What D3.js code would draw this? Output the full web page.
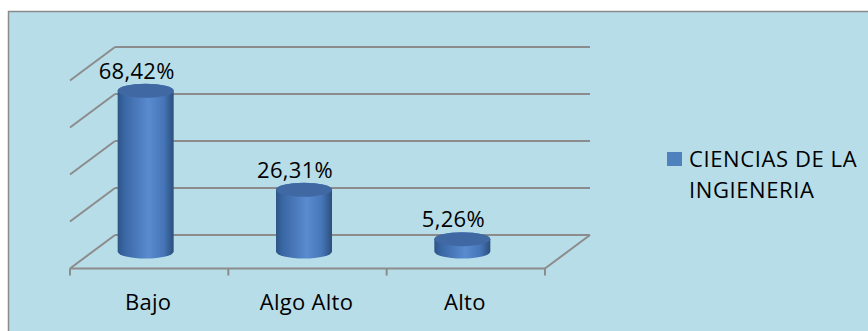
<!DOCTYPE html>
<html><head><meta charset="utf-8">
<script src="https://cdn.jsdelivr.net/npm/d3@7/dist/d3.min.js"></script>
<style>html,body{margin:0;padding:0;background:#fff;}svg{display:block;}</style>
</head><body>
<svg id="chart" width="868" height="331"></svg>
<script>
const categories = ["Bajo", "Algo Alto", "Alto"];
const values = [68.42, 26.31, 5.26];
const valueLabels = ["68,42%", "26,31%", "5,26%"];
const gridValues = [0, 20, 40, 60, 80];
const seriesName = ["CIENCIAS DE LA", "INGIENERIA"];

const svg = d3.select("#chart");
const FONT = "'Open Sans', sans-serif";

// frame geometry
const backLeft = 115, backRight = 590, backBase = 235;
const depthDx = -45, depthDy = 33.5;
const frontLeft = backLeft + depthDx, frontRight = backRight + depthDx, frontBase = backBase + depthDy;
const barBase = 251.5;

const y = d3.scaleLinear().domain([0, 80]).range([0, 188]);
const x = d3.scaleBand().domain(categories).range([frontLeft, frontRight]).padding(0);

// background
svg.append("rect").attr("x", 8).attr("y", 11).attr("width", 868 - 8).attr("height", 331 - 11).attr("fill", "#b7dde8");
svg.append("line").attr("x1", 8).attr("x2", 868).attr("y1", 11.5).attr("y2", 11.5).attr("stroke", "#8a8a8a").attr("stroke-width", 1.5);
svg.append("line").attr("x1", 8.5).attr("x2", 8.5).attr("y1", 11).attr("y2", 331).attr("stroke", "#8a8a8a").attr("stroke-width", 1.5);

const lineCol = "#8c8c8c";
const g = svg.append("g").attr("stroke", lineCol).attr("stroke-width", 2).attr("fill", "none");
// back wall gridlines and left side diagonals
gridValues.forEach(v => {
  const yy = backBase - y(v);
  g.append("line").attr("x1", backLeft).attr("x2", backRight).attr("y1", yy).attr("y2", yy);
  g.append("line").attr("x1", backLeft).attr("x2", backLeft + depthDx).attr("y1", yy).attr("y2", yy + depthDy);
});
// floor
g.append("line").attr("x1", backRight).attr("y1", backBase).attr("x2", frontRight).attr("y2", frontBase);
g.append("line").attr("x1", frontLeft).attr("y1", frontBase).attr("x2", frontRight).attr("y2", frontBase);
// ticks
const tickXs = categories.map(c => x(c)).concat([frontRight]);
tickXs.forEach(tx => {
  g.append("line").attr("x1", tx).attr("x2", tx).attr("y1", frontBase).attr("y2", frontBase + 7);
});

// gradient
const defs = svg.append("defs");
const grad = defs.append("linearGradient").attr("id", "cyl").attr("x1", "0%").attr("x2", "100%").attr("y1", "0%").attr("y2", "0%");
[["0%", "#2d5686"], ["12%", "#3a67a4"], ["55%", "#5a8bd0"], ["82%", "#4676b8"], ["100%", "#2b4f7c"]].forEach(([o, c]) => grad.append("stop").attr("offset", o).attr("stop-color", c));

const rx = 28, ry = 7;
const bars = svg.append("g");
categories.forEach((c, i) => {
  const cx = x(c) + x.bandwidth() / 2 - 3.5;
  const top = barBase - y(values[i]);
  const p = `M${cx - rx},${top} L${cx - rx},${barBase} A${rx},${ry} 0 0 0 ${cx + rx},${barBase} L${cx + rx},${top} A${rx},${ry} 0 0 0 ${cx - rx},${top} Z`;
  bars.append("path").attr("d", p).attr("fill", "url(#cyl)");
  bars.append("ellipse").attr("cx", cx).attr("cy", top).attr("rx", rx).attr("ry", ry).attr("fill", "#4069a4");
  svg.append("text").attr("x", cx - 9).attr("y", top - 12).attr("text-anchor", "middle")
    .attr("font-family", FONT).attr("font-size", 22).attr("letter-spacing", 0.3).attr("fill", "#000").text(valueLabels[i]);
  svg.append("text").attr("x", x(c) + x.bandwidth() / 2 - 1).attr("y", 310).attr("text-anchor", "middle")
    .attr("font-family", FONT).attr("font-size", 22).attr("letter-spacing", 0.3).attr("fill", "#000").text(c);
});

// legend
svg.append("rect").attr("x", 667).attr("y", 152).attr("width", 15).attr("height", 14).attr("fill", "#4f81bd");
seriesName.forEach((t, i) => {
  svg.append("text").attr("x", 689).attr("y", 166.5 + i * 31.5).attr("font-family", FONT).attr("font-size", 22)
    .attr("letter-spacing", 0.6).attr("fill", "#000").text(t);
});
</script>
</body></html>
